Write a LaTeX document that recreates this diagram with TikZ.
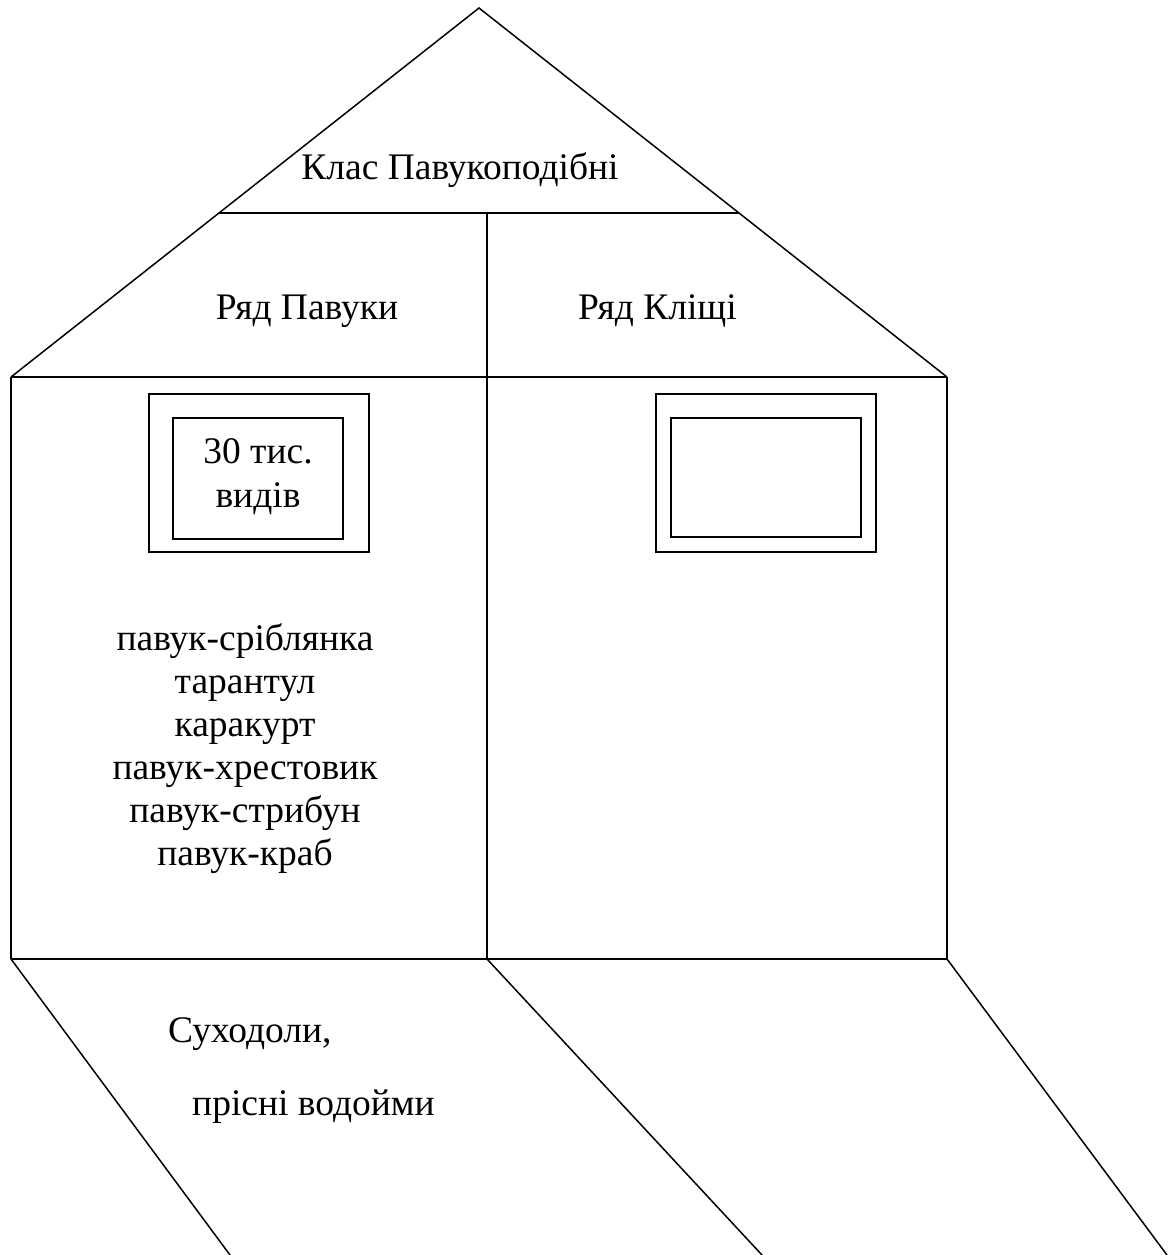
\documentclass[tikz,border=0pt]{standalone}
\usepackage{fontspec}
\setmainfont{Liberation Serif}
\usetikzlibrary{calc}

\begin{document}
\begin{tikzpicture}[
  x=1pt, y=-1pt,
  font=\fontsize{37.5}{43}\selectfont,
  wall/.style={draw=black, line width=1.5pt},
  beam/.style={draw=black, line width=2.4pt},
  winout/.style={draw=black, line width=1.9pt, inner sep=0pt,
                 minimum width=220pt, minimum height=158pt},
  winin/.style={draw=black, line width=1.9pt, inner sep=0pt},
  lbl/.style={inner sep=0pt, align=center},
]
\useasboundingbox (0,0) rectangle (1168,1255);

% ---- roof ----
\coordinate (apex) at (479,8);
\coordinate (eaveL) at (11,377);
\coordinate (eaveR) at (947,377);
\coordinate (ridgeM) at (487,213);
\draw[wall] (eaveL) -- (apex) -- (eaveR);
\draw[beam] ($(apex)!0.5556!(eaveL)$) -- ($(apex)!0.5556!(eaveR)$);

% ---- walls ----
\coordinate (baseL) at (11,959);
\coordinate (baseM) at (487,959);
\coordinate (baseR) at (947,959);
\draw[wall] (eaveL) -- (baseL);
\draw[wall] (eaveR) -- (baseR);
\draw[wall] (ridgeM) -- (baseM);
\draw[beam] (eaveL) -- (eaveR);
\draw[beam] (baseL) -- (baseR);

% ---- windows ----
\node[winout] (winL) at (258.7,473.4) {};
\node[winin, minimum width=170pt, minimum height=120.7pt] (winLin) at (257.7,478.4) {};
\node[winout] (winR) at (765.9,473.4) {};
\node[winin, minimum width=190.3pt, minimum height=119pt] (winRin) at (765.9,477.5) {};

% ---- ground ----
\coordinate (gndL) at (230,1255);
\coordinate (gndM) at (762,1255);
\coordinate (gndR) at (1167,1255);
\draw[wall] (baseL) -- (gndL);
\draw[wall] (baseM) -- (gndM);
\draw[wall] (baseR) -- (gndR);

% ---- labels (base = last line) ----
\node[lbl, anchor=base] (klas) at (460,179) {Клас Павукоподібні};
\node[lbl, anchor=base] (pavuky) at (307,319) {Ряд Павуки};
\node[lbl, anchor=base] (klishchi) at (657.5,319) {Ряд Кліщі};
\node[lbl, anchor=base] (vydy) at (258,507) {30 тис.\\[1pt] видів};
\node[lbl, anchor=base] (spysok) at (245,865)
  {павук-сріблянка\\ тарантул\\ каракурт\\ павук-хрестовик\\ павук-стрибун\\ павук-краб};
\node[lbl, anchor=base west] (sukhodoly) at (168,1042) {Суходоли,};
\node[lbl, anchor=base west] (vodoimy) at (192,1115) {прісні водойми};
\end{tikzpicture}
\end{document}
